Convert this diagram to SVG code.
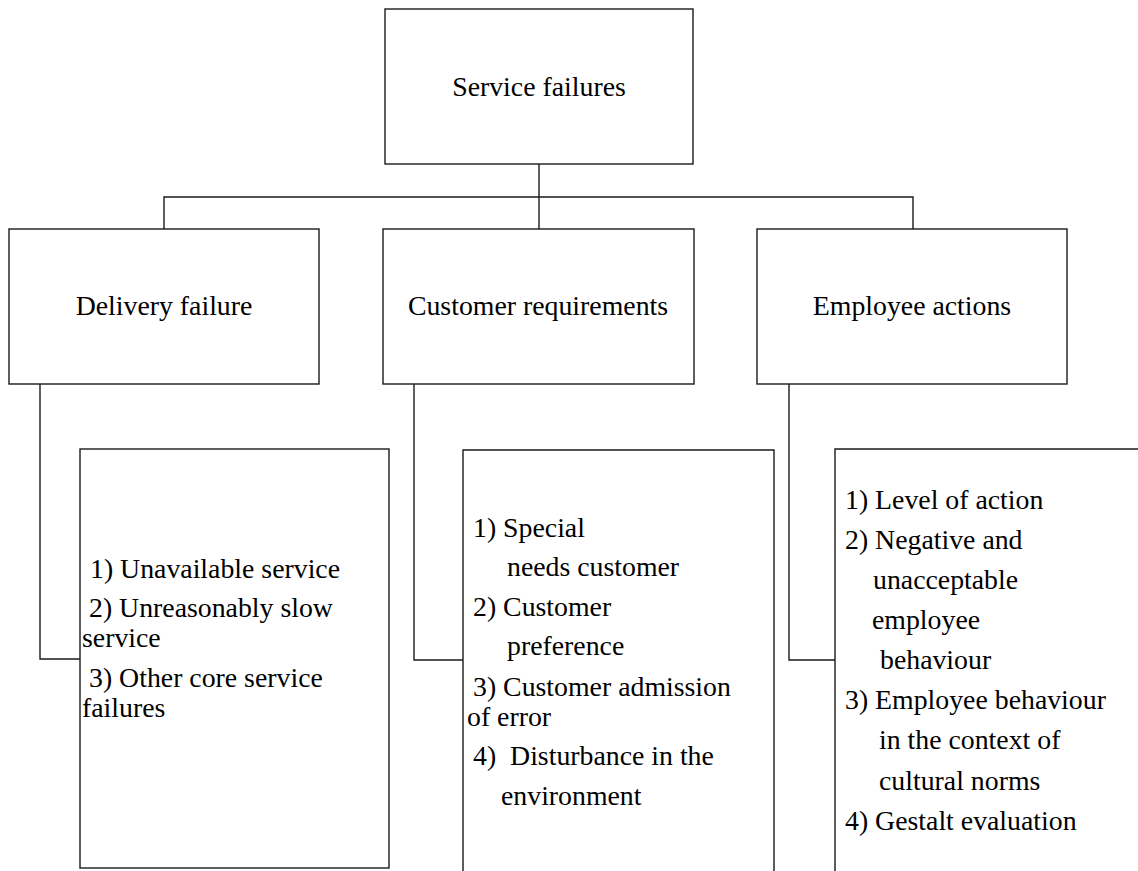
<svg xmlns="http://www.w3.org/2000/svg" width="1138" height="871" viewBox="0 0 1138 871">
<style>
.box{fill:#fff;stroke:#1a1a1a;stroke-width:1.4}
.ln{fill:none;stroke:#1a1a1a;stroke-width:1.4}
.c{text-anchor:middle}
</style>
<rect width="1138" height="871" fill="#fff"/>
<g id="connectors">
<path class="ln" d="M539 164V229M164 229V197H913V229"/>
<path class="ln" d="M40 384V659H80"/>
<path class="ln" d="M414 384V660H463"/>
<path class="ln" d="M789 384V660H835"/>
</g>
<g font-family="Liberation Serif, Times New Roman, serif" font-size="27.8" fill="#000">
<g id="service-failures">
<rect class="box" x="385" y="9" width="308" height="155"/>
<text class="c" x="539" y="96">Service failures</text>
</g>
<g id="delivery-failure">
<rect class="box" x="9" y="229" width="310" height="155"/>
<text class="c" x="164" y="315">Delivery failure</text>
</g>
<g id="customer-requirements">
<rect class="box" x="383" y="229" width="311" height="155"/>
<text class="c" x="538" y="315">Customer requirements</text>
</g>
<g id="employee-actions">
<rect class="box" x="757" y="229" width="310" height="155"/>
<text class="c" x="912" y="315">Employee actions</text>
</g>
<g id="delivery-list">
<rect class="box" x="80" y="449" width="309" height="419"/>
<text x="90" y="578">1) Unavailable service</text>
<text x="89" y="617">2) Unreasonably slow</text>
<text x="82" y="647">service</text>
<text x="89" y="687">3) Other core service</text>
<text x="82" y="717">failures</text>
</g>
<g id="customer-list">
<path class="box" d="M463 875V450H774V875"/>
<text x="473" y="537">1) Special</text>
<text x="507" y="576">needs customer</text>
<text x="473" y="616">2) Customer</text>
<text x="507" y="655">preference</text>
<text x="473" y="696">3) Customer admission</text>
<text x="467" y="726">of error</text>
<text x="473" y="765" xml:space="preserve">4)  Disturbance in the</text>
<text x="501" y="805">environment</text>
</g>
<g id="employee-list">
<path class="box" d="M835 875V449H1142"/>
<text x="845" y="509">1) Level of action</text>
<text x="845" y="549">2) Negative and</text>
<text x="873" y="589">unacceptable</text>
<text x="872" y="629">employee</text>
<text x="880" y="669">behaviour</text>
<text x="845" y="709">3) Employee behaviour</text>
<text x="879" y="749">in the context of</text>
<text x="879" y="790">cultural norms</text>
<text x="845" y="830">4) Gestalt evaluation</text>
</g>
</g>
</svg>
